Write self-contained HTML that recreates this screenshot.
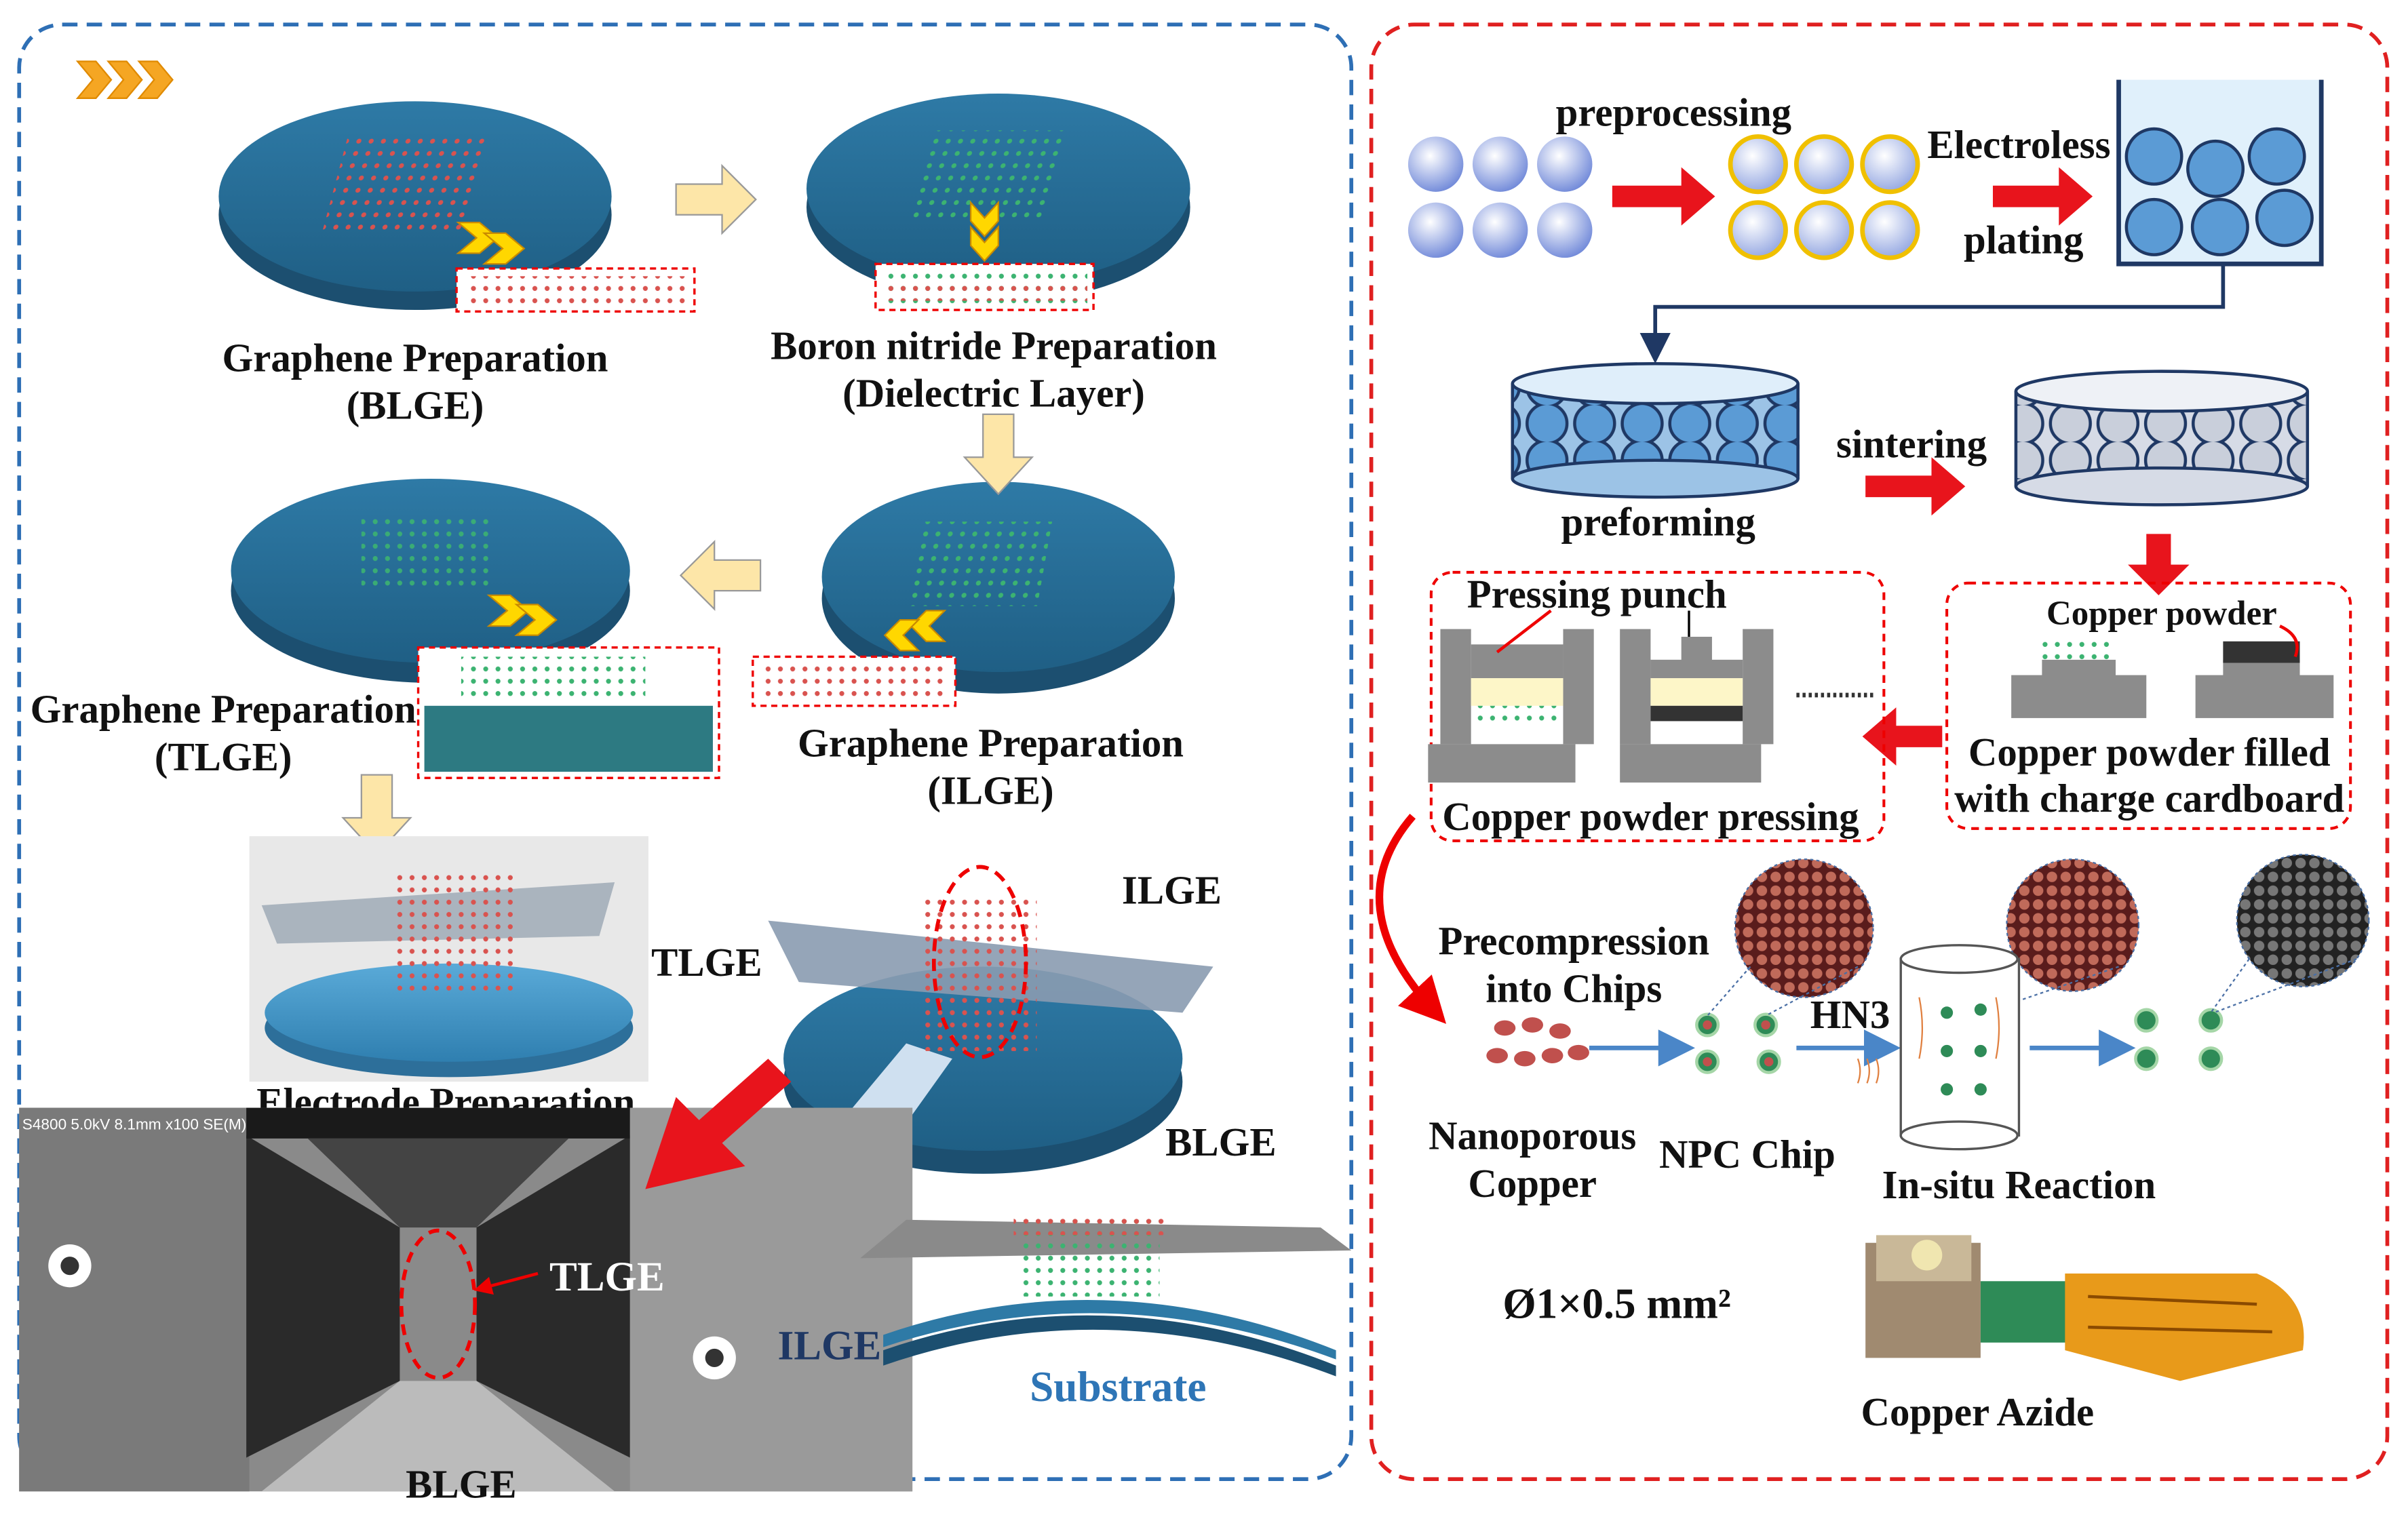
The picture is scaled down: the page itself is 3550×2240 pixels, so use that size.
<!DOCTYPE html>
<html><head><meta charset="utf-8">
<style>
html,body{margin:0;padding:0;background:#fff;}
svg{display:block;}
text{font-family:"Liberation Serif",serif;font-weight:bold;fill:#111;}
</style></head>
<body>
<svg width="3550" height="2240" viewBox="0 0 1568 990" xmlns="http://www.w3.org/2000/svg">
<defs>
<radialGradient id="sph" cx="0.4" cy="0.35" r="0.7"><stop offset="0" stop-color="#fff"/><stop offset="1" stop-color="#6d86d8"/></radialGradient>
<radialGradient id="sphy" cx="0.4" cy="0.35" r="0.7"><stop offset="0" stop-color="#fff"/><stop offset="1" stop-color="#8fa3e0"/></radialGradient>
<linearGradient id="disc" x1="0" y1="0" x2="0" y2="1"><stop offset="0" stop-color="#2e7aa6"/><stop offset="1" stop-color="#1f5f85"/></linearGradient>
<linearGradient id="disc2" x1="0" y1="0" x2="0" y2="1"><stop offset="0" stop-color="#5aaad8"/><stop offset="1" stop-color="#2f7fb0"/></linearGradient>
<pattern id="lat" width="8" height="8" patternUnits="userSpaceOnUse"><circle cx="4" cy="4" r="1.6" fill="#d9534f"/></pattern>
<pattern id="lat2" width="8" height="8" patternUnits="userSpaceOnUse"><circle cx="4" cy="4" r="1.6" fill="#3cb371"/></pattern>
<pattern id="dots" width="9" height="9" patternUnits="userSpaceOnUse"><rect width="9" height="9" fill="#5a1c1c"/><circle cx="4.5" cy="4.5" r="3.4" fill="#c06a5a"/></pattern>
<pattern id="dotsg" width="9" height="9" patternUnits="userSpaceOnUse"><rect width="9" height="9" fill="#222"/><circle cx="4.5" cy="4.5" r="3.4" fill="#777"/></pattern>
<pattern id="circ" width="31" height="24" patternUnits="userSpaceOnUse"><rect width="31" height="24" fill="#9cc3e6"/><circle cx="15.5" cy="12" r="13" fill="#5b9bd5" stroke="#1f3864" stroke-width="2"/></pattern>
<pattern id="circ2" width="31" height="24" patternUnits="userSpaceOnUse"><rect width="31" height="24" fill="#d6dbe6"/><circle cx="15.5" cy="12" r="13" fill="#c9cfdb" stroke="#1f3864" stroke-width="2"/></pattern>
<marker id="ah" markerWidth="8" markerHeight="8" refX="6" refY="4" orient="auto"><path d="M0,0 L8,4 L0,8z" fill="#4a86c8"/></marker>
<marker id="ahn" markerWidth="8" markerHeight="8" refX="6" refY="4" orient="auto"><path d="M0,0 L8,4 L0,8z" fill="#1f3864"/></marker>
<marker id="ahr" markerWidth="6" markerHeight="6" refX="4" refY="3" orient="auto"><path d="M0,0 L6,3 L0,6z" fill="#e00"/></marker>
</defs>

<rect x="12" y="16" width="868" height="948" rx="28" fill="none" stroke="#2e6fb5" stroke-width="2.5" stroke-dasharray="10,6"/>
<rect x="893" y="16" width="662" height="948" rx="28" fill="none" stroke="#e02020" stroke-width="2.5" stroke-dasharray="10,6"/>

<g fill="#f5a623" stroke="#e08a00">
<path d="M50,40 h12 l10,12 l-10,12 h-12 l10,-12z"/><path d="M70,40 h12 l10,12 l-10,12 h-12 l10,-12z"/><path d="M90,40 h12 l10,12 l-10,12 h-12 l10,-12z"/>
</g>

<g>
<ellipse cx="270" cy="140" rx="128" ry="62" fill="#1c4f70"/><ellipse cx="270" cy="128" rx="128" ry="62" fill="url(#disc)"/>
<rect x="220" y="90" width="90" height="60" fill="url(#lat)" transform="skewX(-15) translate(30,0)"/>
<ellipse cx="650" cy="135" rx="125" ry="62" fill="#1c4f70"/><ellipse cx="650" cy="123" rx="125" ry="62" fill="url(#disc)"/>
<rect x="600" y="85" width="90" height="60" fill="url(#lat2)" transform="skewX(-15) translate(30,0)"/>
<ellipse cx="280" cy="385" rx="130" ry="60" fill="#1c4f70"/><ellipse cx="280" cy="372" rx="130" ry="60" fill="url(#disc)"/>
<rect x="235" y="335" width="85" height="50" fill="url(#lat2)" opacity="0.9"/>
<ellipse cx="650" cy="390" rx="115" ry="62" fill="#1c4f70"/><ellipse cx="650" cy="376" rx="115" ry="62" fill="url(#disc)"/>
<rect x="600" y="340" width="85" height="55" fill="url(#lat2)" transform="skewX(-10) translate(60,0)"/>
</g>
<g fill="#ffd700" stroke="#c98a00" stroke-width="1">
<path d="M298,145 l14,0 l12,10 l-12,10 h-14 l12,-10z"/><path d="M315,152 l14,0 l12,10 l-12,10 h-14 l12,-10z"/>
<path d="M632,132 v12 l9,10 l9,-10 v-12 l-9,10z"/><path d="M632,148 v12 l9,10 l9,-10 v-12 l-9,10z"/>
<path d="M318,388 l14,0 l12,10 l-12,10 h-14 l12,-10z"/><path d="M336,394 l14,0 l12,10 l-12,10 h-14 l12,-10z"/>
<path d="M615,398 h-12 l-10,10 l10,10 h12 l-10,-10z"/><path d="M598,404 h-12 l-10,10 l10,10 h12 l-10,-10z"/>
</g>
<rect x="297" y="175" width="155" height="28" fill="#fff" stroke="#e00" stroke-width="1.5" stroke-dasharray="4,3"/>
<rect x="302" y="180" width="145" height="18" fill="url(#lat)"/>
<rect x="570" y="172" width="142" height="30" fill="#fff" stroke="#e00" stroke-width="1.5" stroke-dasharray="4,3"/>
<rect x="574" y="176" width="134" height="22" fill="url(#lat2)"/><rect x="574" y="186" width="134" height="10" fill="url(#lat)"/>
<rect x="272" y="422" width="196" height="85" fill="#fff" stroke="#e00" stroke-width="1.5" stroke-dasharray="4,3"/>
<rect x="276" y="460" width="188" height="43" fill="#2d7a82"/><rect x="300" y="428" width="120" height="30" fill="url(#lat2)"/>
<rect x="490" y="428" width="132" height="32" fill="#fff" stroke="#e00" stroke-width="1.5" stroke-dasharray="4,3"/>
<rect x="494" y="432" width="124" height="24" fill="url(#lat)"/>

<g fill="#fde6a8" stroke="#999" stroke-width="1">
<path d="M440,120 h30 v-12 l22,22 l-22,22 v-12 h-30z"/>
<path d="M640,270 h20 v28 h12 l-22,24 l-22,-24 h12z"/>
<path d="M495,365 h-30 v-12 l-22,22 l22,22 v-12 h30z"/>
<path d="M235,505 h20 v28 h12 l-22,24 l-22,-24 h12z"/>
</g>

<g font-size="26" text-anchor="middle">
<text x="270" y="242">Graphene Preparation</text><text x="270" y="273">(BLGE)</text>
<text x="647" y="234">Boron nitride Preparation</text><text x="647" y="265">(Dielectric Layer)</text>
<text x="145" y="471">Graphene Preparation</text><text x="145" y="502">(TLGE)</text>
<text x="645" y="493">Graphene Preparation</text><text x="645" y="524">(ILGE)</text>
</g>

<rect x="162" y="545" width="260" height="160" fill="#e8e8e8"/>
<ellipse cx="292" cy="670" rx="120" ry="32" fill="#2d6f9a"/><ellipse cx="292" cy="660" rx="120" ry="32" fill="url(#disc2)"/>
<path d="M170,590 L400,575 L390,610 L180,615z" fill="#9aa6b3" opacity="0.8"/>
<rect x="255" y="570" width="80" height="80" fill="url(#lat)"/>
<text x="290" y="727" font-size="26" text-anchor="middle">Electrode Preparation</text>

<ellipse cx="640" cy="705" rx="130" ry="60" fill="#1c4f70"/><ellipse cx="640" cy="690" rx="130" ry="60" fill="url(#disc)"/>
<path d="M500,600 L790,630 L770,660 L520,640z" fill="#8a9bb0" opacity="0.9"/>
<path d="M540,740 L590,680 L620,690 L570,760z" fill="#cfe0f0"/>
<rect x="600" y="585" width="75" height="100" fill="url(#lat)"/>
<ellipse cx="638" cy="627" rx="30" ry="62" fill="none" stroke="#e00" stroke-width="2.5" stroke-dasharray="8,5"/>
<g font-size="26" text-anchor="middle">
<text x="460" y="636">TLGE</text><text x="763" y="589">ILGE</text><text x="795" y="753">BLGE</text>
</g>

<rect x="12" y="722" width="582" height="250" fill="#8a8a8a"/>
<rect x="12" y="722" width="150" height="250" fill="#7a7a7a"/>
<path d="M160,740 L260,800 L260,900 L160,950z" fill="#2a2a2a"/>
<path d="M410,740 L310,800 L310,900 L410,950z" fill="#2a2a2a"/>
<rect x="160" y="722" width="250" height="20" fill="#1a1a1a"/>
<path d="M200,742 L370,742 L310,800 L260,800z" fill="#444"/>
<path d="M260,900 L310,900 L400,972 L170,972z" fill="#bbb"/>
<rect x="410" y="722" width="184" height="250" fill="#9a9a9a"/>
<circle cx="45" cy="825" r="14" fill="#fff"/><circle cx="45" cy="825" r="6" fill="#333"/>
<circle cx="465" cy="885" r="14" fill="#fff"/><circle cx="465" cy="885" r="6" fill="#333"/>
<text x="14" y="736" font-size="10" style="font-family:'Liberation Sans',sans-serif;font-weight:normal;fill:#fff">S4800 5.0kV 8.1mm x100 SE(M)</text>
<ellipse cx="285" cy="850" rx="24" ry="48" fill="none" stroke="#e00" stroke-width="2.5" stroke-dasharray="7,5"/>
<line x1="350" y1="830" x2="312" y2="840" stroke="#e00" stroke-width="2" marker-end="url(#ahr)"/>
<text x="395" y="841" font-size="27" text-anchor="middle" style="fill:#fff">TLGE</text>
<text x="300" y="976" font-size="26" text-anchor="middle">BLGE</text>
<text x="540" y="886" font-size="27" text-anchor="middle" style="fill:#1f3864">ILGE</text>
<path d="M515,705 L470,745 L485,760 L420,775 L440,715 L455,730 L500,690z" fill="#e8141c"/>

<path d="M575,880 Q720,830 870,890 L870,897 Q720,840 575,890z" fill="#1c4f70"/>
<path d="M575,870 Q720,820 870,880 L870,886 Q720,830 575,878z" fill="#2e7aa6"/>
<path d="M560,820 L880,815 L860,800 L590,795z" fill="#8a8a8a"/>
<rect x="665" y="795" width="90" height="50" fill="url(#lat2)"/><rect x="660" y="790" width="100" height="15" fill="url(#lat)"/>
<text x="728" y="913" font-size="28" text-anchor="middle" style="fill:#2e75b6">Substrate</text>

<g>
<circle cx="935" cy="107" r="18" fill="url(#sph)"/><circle cx="977" cy="107" r="18" fill="url(#sph)"/><circle cx="1019" cy="107" r="18" fill="url(#sph)"/>
<circle cx="935" cy="150" r="18" fill="url(#sph)"/><circle cx="977" cy="150" r="18" fill="url(#sph)"/><circle cx="1019" cy="150" r="18" fill="url(#sph)"/>
<g stroke="#f0c000" stroke-width="3" fill="url(#sphy)">
<circle cx="1145" cy="107" r="18"/><circle cx="1188" cy="107" r="18"/><circle cx="1231" cy="107" r="18"/>
<circle cx="1145" cy="150" r="18"/><circle cx="1188" cy="150" r="18"/><circle cx="1231" cy="150" r="18"/>
</g>
</g>
<g fill="#e8141c">
<path d="M1050,121 h45 v-12 l22,19 l-22,19 v-12 h-45z"/>
<path d="M1298,121 h43 v-12 l22,19 l-22,19 v-12 h-43z"/>
<path d="M1215,310 h43 v-12 l22,19 l-22,19 v-12 h-43z"/>
<path d="M1398,348 h16 v20 h12 l-20,20 l-20,-20 h12z"/>
<path d="M1265,473 h-30 v-12 l-22,19 l22,19 v-12 h30z"/>
</g>
<g font-size="26" text-anchor="middle">
<text x="1090" y="82">preprocessing</text>
<text x="1315" y="103">Electroless</text><text x="1318" y="165">plating</text>
</g>
<path d="M1380,52 V172 H1512 V52" fill="#e0f0fb" stroke="#1f3864" stroke-width="3"/>
<g fill="#5b9bd5" stroke="#1f3864" stroke-width="2">
<circle cx="1403" cy="102" r="18"/><circle cx="1443" cy="110" r="18"/><circle cx="1483" cy="102" r="18"/>
<circle cx="1403" cy="148" r="18"/><circle cx="1446" cy="148" r="18"/><circle cx="1488" cy="142" r="18"/>
</g>
<path d="M1448,172 V200 H1078 V232" fill="none" stroke="#1f3864" stroke-width="2.5" marker-end="url(#ahn)"/>
<rect x="985" y="250" width="187" height="62" fill="url(#circ)"/>
<ellipse cx="1078" cy="312" rx="93" ry="12" fill="#9cc3e6" stroke="#1f3864" stroke-width="2"/>
<ellipse cx="1078" cy="250" rx="93" ry="13" fill="#dfeefa" stroke="#1f3864" stroke-width="2"/>
<line x1="985" y1="250" x2="985" y2="312" stroke="#1f3864" stroke-width="2"/><line x1="1171" y1="250" x2="1171" y2="312" stroke="#1f3864" stroke-width="2"/>
<rect x="1313" y="255" width="190" height="62" fill="url(#circ2)"/>
<ellipse cx="1408" cy="317" rx="95" ry="12" fill="#d6dbe6" stroke="#1f3864" stroke-width="2"/>
<ellipse cx="1408" cy="255" rx="95" ry="13" fill="#eef1f6" stroke="#1f3864" stroke-width="2"/>
<line x1="1313" y1="255" x2="1313" y2="317" stroke="#1f3864" stroke-width="2"/><line x1="1503" y1="255" x2="1503" y2="317" stroke="#1f3864" stroke-width="2"/>
<g font-size="26" text-anchor="middle">
<text x="1080" y="349">preforming</text><text x="1245" y="298">sintering</text>
</g>
<rect x="932" y="373" width="295" height="175" rx="14" fill="none" stroke="#e00" stroke-width="1.8" stroke-dasharray="5,4"/>
<rect x="1268" y="380" width="263" height="160" rx="14" fill="none" stroke="#e00" stroke-width="1.8" stroke-dasharray="5,4"/>
<g fill="#8c8c8c">
<path d="M938,410 h20 v75 h60 v-75 h20 v75 h-100z"/><rect x="930" y="485" width="96" height="25"/>
<rect x="958" y="420" width="60" height="22"/>
<path d="M1055,410 h20 v75 h60 v-75 h20 v75 h-100z"/><rect x="1055" y="485" width="92" height="25"/>
<path d="M1075,430 h20 v-15 h20 v15 h20 v12 h-60z"/>
<rect x="1310" y="440" width="88" height="28"/><rect x="1330" y="430" width="48" height="12"/>
<rect x="1430" y="440" width="90" height="28"/><rect x="1448" y="430" width="50" height="12"/>
</g>
<rect x="958" y="442" width="60" height="18" fill="#fdf6c8"/><rect x="958" y="460" width="60" height="14" fill="url(#lat2)"/>
<rect x="1075" y="442" width="60" height="18" fill="#fdf6c8"/><rect x="1075" y="460" width="60" height="10" fill="#333"/>
<rect x="1330" y="418" width="48" height="14" fill="url(#lat2)"/><rect x="1448" y="418" width="50" height="14" fill="#333"/>
<line x1="1170" y1="453" x2="1220" y2="453" stroke="#333" stroke-width="3" stroke-dasharray="2,2"/>
<line x1="1010" y1="398" x2="975" y2="425" stroke="#e00" stroke-width="2"/>
<line x1="1100" y1="398" x2="1100" y2="415" stroke="#000" stroke-width="1.5"/>
<path d="M1485,408 Q1500,415 1495,428" fill="none" stroke="#e00" stroke-width="2"/>
<g font-size="26" text-anchor="middle">
<text x="1040" y="396">Pressing punch</text>
<text x="1408" y="407" font-size="22.5">Copper powder</text>
<text x="1075" y="541">Copper powder pressing</text>
<text x="1400" y="499">Copper powder filled</text><text x="1400" y="529">with charge cardboard</text>
</g>
<path d="M920,532 Q870,590 935,660" fill="none" stroke="#e00" stroke-width="5" marker-end="url(#ahr)"/>
<g fill="#c0504d">
<ellipse cx="980" cy="670" rx="7" ry="5"/><ellipse cx="998" cy="668" rx="7" ry="5"/><ellipse cx="1016" cy="672" rx="7" ry="5"/>
<ellipse cx="975" cy="688" rx="7" ry="5"/><ellipse cx="993" cy="690" rx="7" ry="5"/><ellipse cx="1011" cy="688" rx="7" ry="5"/><ellipse cx="1028" cy="686" rx="7" ry="5"/>
</g>
<g fill="#2e8b57" stroke="#a5d6a7" stroke-width="2">
<circle cx="1112" cy="668" r="7"/><circle cx="1150" cy="668" r="7"/><circle cx="1112" cy="692" r="7"/><circle cx="1152" cy="692" r="7"/>
<circle cx="1398" cy="665" r="7"/><circle cx="1440" cy="665" r="7"/><circle cx="1398" cy="690" r="7"/><circle cx="1440" cy="690" r="7"/>
</g>
<g fill="#c0504d"><circle cx="1112" cy="668" r="3"/><circle cx="1150" cy="668" r="3"/><circle cx="1112" cy="692" r="3"/><circle cx="1152" cy="692" r="3"/></g>
<g stroke="#4a86c8" stroke-width="3" marker-end="url(#ah)">
<line x1="1035" y1="683" x2="1098" y2="683"/><line x1="1170" y1="683" x2="1232" y2="683"/><line x1="1322" y1="683" x2="1385" y2="683"/>
</g>
<circle cx="1175" cy="605" r="45" fill="url(#dots)" stroke="#4a6fa5" stroke-dasharray="2,2"/>
<circle cx="1350" cy="603" r="43" fill="url(#dots)" stroke="#4a6fa5" stroke-dasharray="2,2"/>
<circle cx="1500" cy="600" r="43" fill="url(#dotsg)" stroke="#4a6fa5" stroke-dasharray="2,2"/>
<g stroke="#4a6fa5" stroke-width="1" stroke-dasharray="2,2">
<line x1="1140" y1="630" x2="1112" y2="662"/><line x1="1210" y1="630" x2="1150" y2="662"/>
<line x1="1315" y1="625" x2="1290" y2="655"/><line x1="1380" y1="630" x2="1292" y2="660"/>
<line x1="1465" y1="625" x2="1440" y2="660"/><line x1="1535" y1="625" x2="1442" y2="660"/>
</g>
<rect x="1238" y="625" width="77" height="115" fill="#fff" stroke="#555" stroke-width="1.5"/>
<ellipse cx="1276" cy="625" rx="38" ry="9" fill="#fff" stroke="#555" stroke-width="1.5"/>
<ellipse cx="1276" cy="740" rx="38" ry="9" fill="#fff" stroke="#555" stroke-width="1.5"/>
<g fill="#2e8b57"><circle cx="1268" cy="660" r="4"/><circle cx="1290" cy="658" r="4"/><circle cx="1268" cy="685" r="4"/><circle cx="1290" cy="685" r="4"/><circle cx="1268" cy="710" r="4"/><circle cx="1290" cy="710" r="4"/></g>
<g stroke="#e08040" stroke-width="1" fill="none">
<path d="M1210,690 q3,8 0,16"/><path d="M1216,690 q3,8 0,16"/><path d="M1222,690 q3,8 0,16"/>
<path d="M1250,650 q4,20 0,40"/><path d="M1300,650 q4,20 0,40"/>
</g>
<g font-size="26" text-anchor="middle">
<text x="1025" y="622">Precompression</text><text x="1025" y="653">into Chips</text>
<text x="998" y="749">Nanoporous</text><text x="998" y="780">Copper</text>
<text x="1138" y="761">NPC Chip</text><text x="1205" y="670">HN3</text>
<text x="1315" y="781">In-situ Reaction</text>
<text x="1053" y="859" font-size="28">Ø1×0.5 mm²</text>
<text x="1288" y="929">Copper Azide</text>
</g>
<rect x="1215" y="810" width="75" height="75" fill="#a08a70"/>
<rect x="1222" y="805" width="62" height="30" fill="#c9b898"/>
<circle cx="1255" cy="818" r="10" fill="#f0e6b0"/>
<rect x="1290" y="835" width="60" height="40" fill="#2e8b57"/>
<path d="M1345,830 L1470,830 Q1505,845 1500,880 L1420,900 L1345,880z" fill="#e89a1a"/>
<path d="M1360,845 L1470,850 M1360,865 L1480,868" stroke="#8a4a00" stroke-width="2"/>
</svg>
</body></html>
